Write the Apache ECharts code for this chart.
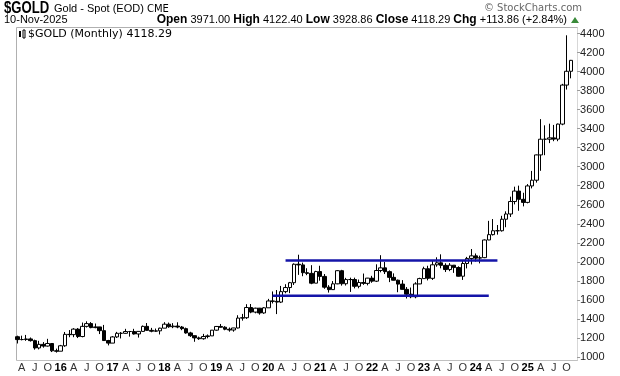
<!DOCTYPE html>
<html><head><meta charset="utf-8">
<script src="https://cdn.jsdelivr.net/npm/echarts@6/dist/echarts.min.js"></script>
<style>html,body{margin:0;padding:0;background:#fff}#c{width:620px;height:376px}</style>
</head><body><div id="c"></div><script>
// Monthly bars, Mar 2015 .. Nov 2025
const startYear = 2015, startMonth = 3, barCount = 129;
const months = [];
for (let i = 0; i < barCount; i++) {
  const m = (startMonth - 1 + i) % 12 + 1, y = startYear + Math.floor((startMonth - 1 + i) / 12);
  months.push(y + '-' + (m < 10 ? '0' + m : m));
}
const opens = [1213,1183,1184,1190,1172,1095,1133,1115,1142,1065,
 1061,1118,1238,1235,1293,1215,1322,1351,1309,1316,1277,1173,
 1146,1211,1249,1249,1268,1268,1242,1269,1322,1280,1271,1275,
 1303,1345,1318,1325,1315,1298,1253,1224,1201,1192,1215,1222,
 1282,1321,1313,1292,1284,1305,1409,1413,1520,1472,1513,1463,
 1517,1589,1585,1577,1687,1730,1781,1975,1968,1886,1879,1776,
 1898,1847,1734,1708,1769,1907,1770,1814,1814,1743,1783,1774,
 1829,1797,1909,1937,1897,1837,1807,1766,1711,1660,1633,1768,
 1824,1928,1827,1969,1990,1963,1919,1965,1940,1849,1983,2036,
 2063,2039,2044,2230,2286,2327,2327,2448,2503,2634,2744,2657,
 2625,2798,2858,3124,3289,3289,3303,3290,3448,3858,4003];
const highs = [1224,1224,1232,1205,1182,1170,1157,1191,1143,1088,
 1127,1263,1283,1303,1304,1362,1375,1367,1352,1317,1337,1180,
 1220,1264,1262,1296,1274,1296,1270,1331,1357,1306,1299,1308,
 1366,1362,1356,1365,1326,1309,1265,1225,1214,1243,1237,1284,
 1326,1347,1324,1310,1306,1439,1453,1555,1557,1518,1516,1525,
 1611,1689,1704,1747,1765,1789,1984,2075,1992,1933,1965,1906,
 1959,1872,1755,1798,1913,1916,1832,1834,1834,1814,1877,1831,
 1853,1974,2070,1998,1910,1879,1814,1808,1735,1730,1786,1833,
 1949,1959,2009,2048,2079,1985,1987,1966,1953,2009,2052,2135,
 2088,2065,2236,2431,2450,2387,2484,2531,2685,2790,2801,2726,
 2817,2956,3128,3500,3435,3452,3439,3453,3871,4381,4122];
const lows = [1142,1175,1170,1162,1077,1080,1098,1110,1052,1046,
 1061,1107,1208,1208,1199,1207,1310,1302,1302,1241,1171,1122,
 1146,1200,1195,1245,1214,1236,1204,1267,1275,1260,1264,1237,
 1303,1307,1303,1302,1282,1245,1211,1160,1180,1182,1196,1221,
 1276,1309,1281,1266,1266,1300,1382,1400,1460,1459,1445,1454,
 1517,1563,1451,1567,1670,1671,1757,1863,1849,1860,1765,1776,
 1802,1717,1677,1706,1765,1750,1751,1684,1721,1722,1758,1753,
 1780,1788,1890,1872,1787,1805,1681,1709,1615,1618,1617,1766,
 1823,1805,1810,1949,1932,1893,1902,1884,1846,1810,1931,1973,
 2002,1984,2039,2228,2277,2286,2318,2364,2472,2604,2537,2583,
 2615,2772,2833,2957,3121,3248,3268,3268,3436,3811,3929];
const closes = [1183,1184,1190,1172,1095,1133,1115,1142,1065,1061,
 1118,1238,1235,1293,1215,1322,1351,1309,1316,1277,1173,1146,
 1211,1249,1249,1268,1268,1242,1269,1322,1280,1271,1275,1303,
 1345,1318,1325,1315,1298,1253,1224,1201,1192,1215,1222,1282,
 1321,1313,1292,1284,1305,1409,1413,1520,1472,1513,1463,1517,
 1589,1585,1577,1687,1730,1781,1975,1968,1886,1879,1776,1898,
 1847,1734,1708,1769,1907,1770,1814,1814,1743,1783,1774,1829,
 1797,1909,1937,1897,1837,1807,1766,1711,1660,1633,1768,1824,
 1928,1827,1969,1990,1963,1919,1965,1940,1849,1983,2036,2063,
 2039,2044,2230,2286,2327,2327,2448,2503,2634,2744,2657,2625,
 2798,2858,3124,3289,3289,3303,3290,3448,3858,4003,4118];
// Horizontal channel lines drawn on the chart
const upperLine = {from: '2020-05', to: '2024-06', value: 2013};
const lowerLine = {from: '2020-02', to: '2024-04', value: 1643};
const yTicks = {min: 1000, max: 4400, step: 200};
const monthLetters = {'04': 'A', '07': 'J', '10': 'O'};

const candleData = months.map((m, i) => [opens[i], closes[i], lows[i], highs[i]]);
const lineData = l => [[months.indexOf(l.from), l.value], [months.indexOf(l.to), l.value]];

const chart = echarts.init(document.getElementById('c'), null, {renderer: 'canvas'});
const F = "'Liberation Sans', Arial, sans-serif";
const L = 15.3, R = 46.9, T = 33.5, B = 19;
chart.setOption({
  animation: false,
  backgroundColor: '#fff',
  grid: {left: L, right: R, top: T, bottom: B, containLabel: false},
  xAxis: {
    type: 'category', data: months, boundaryGap: true,
    axisLine: {show: false}, axisTick: {show: false}, splitLine: {show: false},
    axisLabel: {
      margin: 5, fontSize: 11, fontFamily: F, color: '#333',
      interval: (idx, v) => ['01', '04', '07', '10'].includes(v.slice(5)),
      formatter: v => {
        const mm = v.slice(5);
        if (mm === '01') return '{y|' + v.slice(2, 4) + '}';
        return monthLetters[mm];
      },
      rich: {y: {fontWeight: 'bold', fontSize: 11, fontFamily: F, color: '#000'}}
    }
  },
  yAxis: {
    type: 'value', position: 'right', min: yTicks.min, max: yTicks.max, interval: yTicks.step,
    offset: 4,
    axisLine: {show: false},
    axisTick: {show: true, length: 3, lineStyle: {color: '#999'}},
    splitLine: {show: false},
    axisLabel: {margin: 3, fontSize: 11, fontFamily: F, color: '#222', formatter: v => String(v)}
  },
  series: [{
    type: 'candlestick', data: candleData, barWidth: 4,
    itemStyle: {color: '#fff', color0: '#000', borderColor: '#000', borderColor0: '#000', borderWidth: 1}
  }, {
    type: 'line', data: lineData(upperLine), symbol: 'none', z: 5,
    lineStyle: {color: '#1414a8', width: 2.5}
  }, {
    type: 'line', data: lineData(lowerLine), symbol: 'none', z: 5,
    lineStyle: {color: '#1414a8', width: 2.5}
  }],
  graphic: [
    {type: 'line', shape: {x1: 16.5, y1: 27.5, x2: 577.5, y2: 27.5}, style: {stroke: '#b0b0b0', lineWidth: 1}},
    {type: 'line', shape: {x1: 16.5, y1: 27.5, x2: 16.5, y2: 360.5}, style: {stroke: '#b0b0b0', lineWidth: 1}},
    {type: 'line', shape: {x1: 16.5, y1: 360.5, x2: 577.5, y2: 360.5}, style: {stroke: '#c0c0c0', lineWidth: 1}},
    {type: 'line', shape: {x1: 577.5, y1: 27.5, x2: 577.5, y2: 360.5}, style: {stroke: '#b0b0b0', lineWidth: 1, lineDash: [1, 1]}},
    {type: 'text', x: 4, y: 1, scaleX: 0.82, style: {text: '$GOLD', font: "bold 16px 'Liberation Sans', Arial", fill: '#000'}},
    {type: 'text', left: 54, top: 3, style: {text: 'Gold - Spot (EOD)', font: "11px 'Liberation Sans', Arial", fill: '#000'}},
    {type: 'text', left: 147, top: 4, style: {text: 'CME', font: "10px 'DejaVu Sans', Arial", fill: '#000'}},
    {type: 'text', right: 38, top: 3, style: {text: '\u00a9 StockCharts.com', font: "10px 'DejaVu Sans', Arial", fill: '#666'}},
    {type: 'text', left: 4, top: 14, style: {text: '10-Nov-2025', font: "11px 'Liberation Sans', Arial", fill: '#000'}},
    {type: 'text', right: 53, top: 14, style: {
      text: '{b|Open} 3971.00 {b|High} 4122.40 {b|Low} 3928.86 {b|Close} 4118.29 {b|Chg} +113.86 (+2.84%)',
      font: "11px 'Liberation Sans', Arial", fill: '#000',
      rich: {b: {fontWeight: 'bold', fontSize: 12, fontFamily: 'Liberation Sans', fill: '#000'}}
    }},
    {type: 'polygon', shape: {points: [[575, 17], [579, 23], [571, 23]]}, style: {fill: '#3a8a3a'}},
    {type: 'rect', shape: {x: 19, y: 31, width: 2, height: 6}, style: {fill: '#000'}},
    {type: 'rect', shape: {x: 23, y: 30, width: 2, height: 8}, style: {fill: '#fff', stroke: '#000', lineWidth: 1}},
    {type: 'text', left: 28, top: 29, style: {text: '$GOLD (Monthly) 4118.29', font: "11px 'DejaVu Sans', Verdana", fill: '#000'}}
  ]
});
</script></body></html>
